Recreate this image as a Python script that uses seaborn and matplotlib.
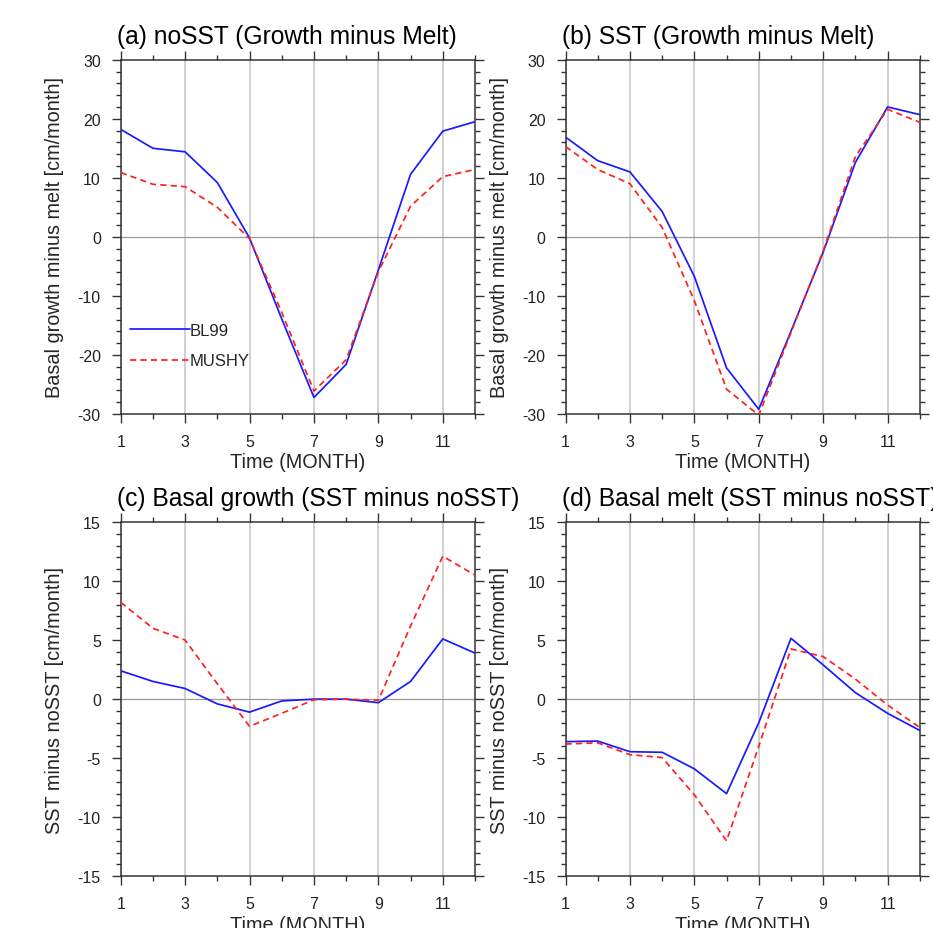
import pandas as pd
import matplotlib
matplotlib.use('Agg')
import matplotlib.pyplot as plt
import seaborn as sns
from matplotlib.ticker import MultipleLocator

months = list(range(1, 13))
schemes = ['BL99', 'MUSHY']

# (a) noSST, growth minus melt
a_bl99 = [18.2, 15.0, 14.4, 9.2, -0.2, -13.9, -27.2, -21.6, -5.6, 10.6, 17.9, 19.5]
a_mushy = [10.9, 8.9, 8.5, 5.0, -0.3, -12.8, -26.1, -20.8, -5.9, 5.2, 10.2, 11.4]
# (b) SST, growth minus melt
b_bl99 = [16.9, 12.9, 11.0, 4.3, -6.7, -22.2, -29.2, -16.0, -2.6, 12.6, 22.0, 20.7]
b_mushy = [15.3, 11.4, 9.0, 1.6, -10.8, -25.8, -30.2, -16.2, -2.4, 13.6, 21.6, 19.4]
# (c) basal growth, SST minus noSST
c_bl99 = [2.4, 1.5, 0.9, -0.4, -1.1, -0.15, 0.0, 0.0, -0.3, 1.5, 5.1, 3.9]
c_mushy = [8.2, 6.0, 5.0, 1.3, -2.3, -1.2, -0.05, 0.0, -0.1, 6.2, 12.1, 10.5]
# (d) basal melt, SST minus noSST
d_bl99 = [-3.6, -3.55, -4.45, -4.5, -5.9, -8.0, -2.0, 5.15, 2.9, 0.55, -1.2, -2.65]
d_mushy = [-3.8, -3.7, -4.7, -4.95, -8.1, -12.0, -4.0, 4.25, 3.6, 1.7, -0.5, -2.4]

titles = ['(a) noSST (Growth minus Melt)', '(b) SST (Growth minus Melt)',
          '(c) Basal growth (SST minus noSST)', '(d) Basal melt (SST minus noSST)']
ylabels = ['Basal growth minus melt [cm/month]', 'Basal growth minus melt [cm/month]',
           'SST minus noSST [cm/month]', 'SST minus noSST [cm/month]']
series = [(a_bl99, a_mushy), (b_bl99, b_mushy), (c_bl99, c_mushy), (d_bl99, d_mushy)]

sns.set_style('ticks')
plt.rcParams['font.family'] = ['Liberation Sans', 'DejaVu Sans']
plt.rcParams['axes.unicode_minus'] = False

fig = plt.figure(figsize=(9.33, 9.29), dpi=100)
W, H = 933, 929
boxes = [(120.7, 60.7), (565.5, 60.7), (120.7, 523), (565.5, 523)]
aw, ah = 354.3, 354.3

palette = {'BL99': '#1a1aff', 'MUSHY': '#ff2020'}
dashes = {'BL99': '', 'MUSHY': (3.6, 2.4)}
frame = '#333333'

for i, (title, ylab, (bl, mu)) in enumerate(zip(titles, ylabels, series)):
    left, top = boxes[i]
    ax = fig.add_axes([left / W, 1 - (top + ah) / H, aw / W, ah / H])
    df = pd.DataFrame({
        'month': months * 2,
        'value': bl + mu,
        'scheme': ['BL99'] * 12 + ['MUSHY'] * 12,
    })
    sns.lineplot(data=df, x='month', y='value', hue='scheme', style='scheme',
                 palette=palette, dashes=dashes, linewidth=1.25, ax=ax,
                 legend=(i == 0), zorder=3)

    if i < 2:
        ax.set_ylim(-30, 30)
        ax.yaxis.set_major_locator(MultipleLocator(10))
        ax.yaxis.set_minor_locator(MultipleLocator(2))
    else:
        ax.set_ylim(-15, 15)
        ax.yaxis.set_major_locator(MultipleLocator(5))
        ax.yaxis.set_minor_locator(MultipleLocator(1))
    ax.set_xlim(1, 12)
    ax.set_xticks([1, 3, 5, 7, 9, 11])
    ax.xaxis.set_minor_locator(MultipleLocator(1))

    ax.grid(axis='x', which='major', color='#c4c4c4', linewidth=1.1)
    ax.axhline(0, color='#9a9a9a', linewidth=0.9, zorder=1)

    for sp in ax.spines.values():
        sp.set_visible(True)
        sp.set_color(frame)
        sp.set_linewidth(1.1)
    ax.tick_params(which='both', direction='out', top=True, right=True,
                   color=frame, width=1.0, labelsize=11.5, labelcolor='#222222')
    ax.tick_params(which='major', length=6.3, pad=8.0)
    ax.tick_params(which='minor', length=3.4)

    ax.set_xlabel('Time (MONTH)', fontsize=14.3, va='top')
    ax.xaxis.set_label_coords(0.5, -0.108)
    ax.set_ylabel(ylab, fontsize=14.3)
    ax.yaxis.set_label_coords(-0.160, 0.5)

    ax.text(-0.01, 1.047, title, transform=ax.transAxes, ha='left',
            va='baseline', fontsize=17.7, color='black')

    if i == 0:
        handles, labels = ax.get_legend_handles_labels()
        ax.legend(handles, labels, loc='upper left', bbox_to_anchor=(0.026, 0.258),
                  frameon=False, fontsize=12, handlelength=3.6, handletextpad=0.0,
                  borderpad=0, borderaxespad=0, labelspacing=0.95)

fig.savefig('out.png', dpi=100)
